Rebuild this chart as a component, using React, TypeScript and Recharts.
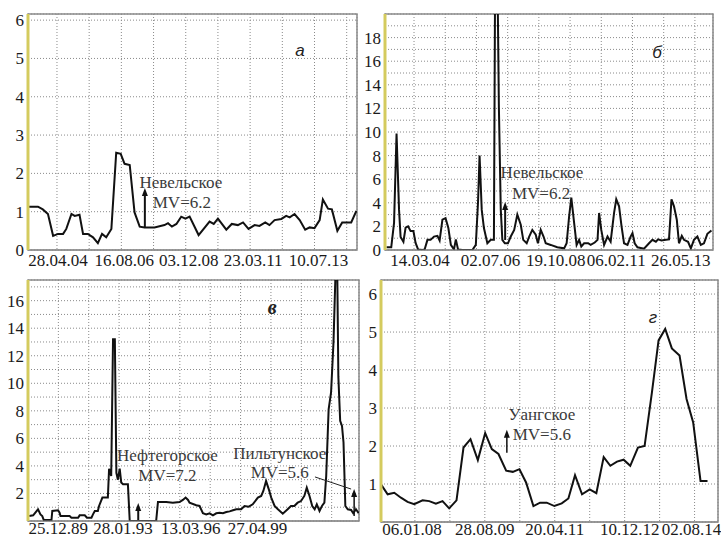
import { CartesianGrid, Line, LineChart, ReferenceArea, ReferenceDot, ReferenceLine, XAxis, YAxis } from 'recharts';

const serif = 'Liberation Serif, Times New Roman, serif';

// time is measured in grid steps of each panel (tick 0 = first dated gridline)

// а — Невельское, MV=6.2
const aTime = [-0.9, -0.59, -0.44, -0.28, -0.12, 0.03, 0.19, 0.29, 0.45, 0.55, 0.7, 0.81, 0.96, 1.12, 1.27, 1.4, 1.53, 1.69, 1.84, 1.98, 2.1, 2.26, 2.41, 2.57, 2.72, 3.03, 3.34, 3.45, 3.57, 3.71, 3.86, 3.99, 4.12, 4.4, 4.74, 4.87, 5.0, 5.26, 5.43, 5.62, 5.78, 5.95, 6.14, 6.29, 6.47, 6.6, 6.76, 6.97, 7.12, 7.23, 7.38, 7.54, 7.71, 7.85, 8.0, 8.16, 8.26, 8.42, 8.54, 8.71, 8.86, 9.14, 9.3];
const aValue = [1.13, 1.13, 1.06, 0.94, 0.37, 0.42, 0.42, 0.55, 0.94, 0.89, 0.92, 0.42, 0.42, 0.33, 0.18, 0.42, 0.33, 0.55, 2.54, 2.51, 2.25, 2.22, 0.98, 0.61, 0.59, 0.59, 0.65, 0.7, 0.61, 0.68, 0.87, 0.82, 0.87, 0.39, 0.74, 0.68, 0.82, 0.53, 0.68, 0.65, 0.72, 0.55, 0.65, 0.63, 0.72, 0.65, 0.78, 0.81, 0.89, 0.85, 0.94, 0.78, 0.53, 0.59, 0.57, 0.78, 1.32, 1.08, 1.06, 0.5, 0.72, 0.72, 1.02];
const aDates = ['28.04.04', '16.08.06', '03.12.08', '23.03.11', '10.07.13'];

// б — Невельское, MV=6.2
const bTime = [-0.88, -0.73, -0.64, -0.56, -0.48, -0.43, -0.34, -0.27, -0.19, -0.11, -0.02, 0.05, 0.13, 0.27, 0.34, 0.43, 0.53, 0.64, 0.75, 0.82, 0.91, 1.01, 1.1, 1.18, 1.28, 1.34, 1.41, 1.55, 1.87, 1.98, 2.05, 2.1, 2.17, 2.24, 2.35, 2.46, 2.56, 2.6, 2.67, 2.72, 2.78, 2.83, 2.91, 3.01, 3.1, 3.21, 3.31, 3.42, 3.5, 3.61, 3.69, 3.79, 3.9, 3.97, 4.06, 4.15, 4.22, 4.38, 4.59, 4.81, 4.89, 4.97, 5.04, 5.13, 5.21, 5.29, 5.36, 5.45, 5.58, 5.66, 5.79, 5.88, 5.93, 6.0, 6.09, 6.2, 6.3, 6.41, 6.48, 6.57, 6.65, 6.73, 6.84, 6.94, 7.0, 7.07, 7.16, 7.37, 7.53, 7.64, 7.75, 7.82, 7.93, 8.07, 8.17, 8.25, 8.33, 8.42, 8.49, 8.58, 8.65, 8.78, 8.87, 8.97, 9.08, 9.19, 9.29, 9.4, 9.53];
const bValue = [0.23, 0.23, 2.3, 9.86, 3.4, 1.1, 0.7, 1.9, 2.0, 1.6, 1.6, 0.6, 0.05, 0, 0.05, 0.86, 0.86, 1.14, 1.2, 0.8, 2.57, 2.7, 1.86, 0.43, 0.05, 0.9, 0.05, 0, 0, 0.43, 4.0, 8.0, 3.4, 1.86, 0.57, 0.86, 0.86, 24, 24, 12, 3.4, 0.86, 0.57, 0.57, 1.14, 1.7, 3.0, 2.14, 0.86, 0.57, 1.14, 1.7, 1.3, 0.57, 1.7, 1.14, 0.57, 0.43, 0.23, 0.14, 0.57, 2.86, 4.43, 2.3, 0.43, 0.86, 0.3, 0.57, 0.57, 0.43, 0.63, 0.86, 3.14, 1.7, 0.43, 1.14, 0.7, 3.14, 4.3, 3.7, 2.0, 0.57, 0.43, 1.14, 1.43, 0.57, 0.23, 0.11, 0.57, 0.86, 0.7, 0.9, 0.8, 0.86, 0.9, 4.3, 3.7, 2.57, 0.57, 1.2, 0.86, 0.7, 0.14, 0.86, 1.14, 0.43, 0.57, 1.37, 1.66];
const bDates = ['14.03.04', '02.07.06', '19.10.08', '06.02.11', '26.05.13'];

// в — Нефтегорское MV=7.2, Пильтунское MV=5.6
const cTime = [-0.96, -0.83, -0.67, -0.59, -0.53, -0.48, -0.29, -0.23, -0.2, -0.01, 0.04, 0.07, 0.37, 0.43, 0.65, 0.7, 0.87, 0.94, 1.09, 1.14, 1.2, 1.3, 1.34, 1.45, 1.63, 1.67, 1.74, 1.8, 1.86, 1.91, 1.96, 2.02, 2.07, 2.13, 2.29, 2.35, 3.22, 3.28, 3.55, 3.77, 3.99, 4.1, 4.19, 4.27, 4.32, 4.54, 4.65, 4.76, 4.87, 4.98, 5.09, 5.2, 5.31, 5.42, 5.53, 5.64, 5.75, 5.86, 6.02, 6.13, 6.27, 6.4, 6.57, 6.68, 6.75, 6.84, 6.93, 7.01, 7.12, 7.23, 7.39, 7.55, 7.66, 7.77, 7.88, 7.99, 8.1, 8.18, 8.27, 8.36, 8.44, 8.51, 8.6, 8.68, 8.76, 8.82, 8.9, 8.98, 9.06, 9.14, 9.18, 9.22, 9.28, 9.34, 9.39, 9.45, 9.53, 9.64, 9.71, 9.8, 9.89];
const cValue = [0.36, 0.41, 0.85, 0.48, 0.36, 0.07, 0.07, 0, 0.73, 0.78, 0.6, 0.36, 0.36, 0.24, 0.24, 0.41, 0.41, 0.24, 0.24, 0.48, 0.73, 0.73, 1.09, 1.7, 1.7, 3.8, 3.27, 13.2, 13.2, 3.5, 3.0, 3.8, 2.8, 2.67, 2.67, 0, 0, 1.38, 1.38, 1.33, 1.38, 1.53, 1.7, 1.53, 1.33, 1.14, 1.09, 0.56, 0.48, 0.56, 0.41, 0.56, 0.6, 0.56, 0.65, 0.7, 0.78, 0.85, 0.85, 1.09, 1.04, 1.21, 1.7, 1.82, 2.18, 2.9, 2.3, 1.7, 1.09, 0.85, 0.53, 0.85, 1.09, 1.09, 1.33, 1.45, 1.82, 2.42, 1.82, 1.09, 0.85, 1.21, 0.73, 1.09, 1.33, 3.27, 8.1, 9.33, 12.97, 19, 19, 10.5, 7.27, 6.9, 5.7, 1.09, 0.85, 0.8, 0.56, 0.85, 0.56];
const cDates = ['25.12.89', '28.01.93', '13.03.96', '27.04.99'];

// г — Уангское, MV=5.6
const dTime = [-0.97, -0.78, -0.59, -0.4, -0.21, -0.02, 0.22, 0.41, 0.6, 0.79, 0.98, 1.19, 1.39, 1.59, 1.8, 2.01, 2.2, 2.39, 2.61, 2.8, 2.99, 3.18, 3.39, 3.58, 3.77, 3.99, 4.2, 4.39, 4.58, 4.78, 5.0, 5.19, 5.4, 5.59, 5.78, 5.97, 6.16, 6.38, 6.57, 6.78, 6.97, 7.16, 7.35, 7.57, 7.77, 7.96, 8.17, 8.37];
const dValue = [0.99, 0.73, 0.77, 0.64, 0.53, 0.47, 0.57, 0.55, 0.48, 0.55, 0.36, 0.57, 1.96, 2.18, 1.63, 2.34, 1.92, 1.79, 1.35, 1.32, 1.39, 1.04, 0.42, 0.51, 0.51, 0.42, 0.49, 0.62, 1.23, 0.73, 0.86, 0.76, 1.71, 1.48, 1.59, 1.64, 1.48, 1.96, 2.0, 3.41, 4.78, 5.08, 4.57, 4.38, 3.24, 2.62, 1.08, 1.08];
const dDates = ['06.01.08', '28.08.09', '20.04.11', '10.12.12', '02.08.14'];

const range = (a: number, b: number) => Array.from({ length: b - a + 1 }, (_, i) => a + i);

type Note = { t: number; v: number; text: string; style?: React.CSSProperties };
type Arrow = { t: number; from: number; to: number; w?: number };
type Seg = { t1: number; v1: number; t2: number; v2: number };

const tickStyle: React.CSSProperties = { fontFamily: serif, fontSize: 17, fill: '#1a1a1a' };

const arrowShape = (w: number) => (p: any) => {
  const { x1, y1, x2, y2 } = p;
  const top = Math.min(y1, y2);
  const bot = Math.max(y1, y2);
  return (
    <g>
      <line x1={x1} y1={bot} x2={x2} y2={top + 6} stroke="#111" strokeWidth={w} />
      <polygon points={`${x2},${top} ${x2 - 3},${top + 8} ${x2 + 3},${top + 8}`} fill="#111" />
    </g>
  );
};

function Panel(props: {
  left: number; top: number; width: number; height: number;
  mTop: number; mRight: number; yWidth: number; xHeight: number;
  xDomain: [number, number]; yDomain: [number, number];
  xTicks: number[]; dateAt: number[]; dates: string[]; dateDx: number[];
  yTicks: number[]; yLabel: (v: number) => string;
  time: number[]; value: number[];
  notes: Note[]; arrows: Arrow[]; segs?: Seg[]; xMargin?: number; dy?: string;
}) {
  const data = props.time.map((t, i) => ({ t, v: props.value[i] }));
  const [x0, x1] = props.xDomain;
  const [y0, y1] = props.yDomain;
  const xTick = (p: any) => {
    const k = props.dateAt.indexOf(p.payload.value);
    if (k < 0) return <g />;
    return (
      <text x={p.x + props.dateDx[k]} y={p.y} dy={props.dy ?? '0.71em'} textAnchor="middle" style={tickStyle}>
        {props.dates[k]}
      </text>
    );
  };
  const yTick = (p: any) => (
    <text x={p.x} y={p.y} dy="0.35em" textAnchor="end" style={tickStyle}>
      {props.yLabel(p.payload.value)}
    </text>
  );
  return (
    <div style={{ position: 'absolute', left: props.left, top: props.top }}>
      <LineChart width={props.width} height={props.height} data={data}
        margin={{ top: props.mTop, right: props.mRight, left: 0, bottom: 0 }}>
        <CartesianGrid stroke="#8a8a8a" strokeDasharray="1 2" />
        <XAxis dataKey="t" type="number" domain={props.xDomain} allowDataOverflow ticks={props.xTicks} interval={0}
          height={props.xHeight} tickLine={false} tickSize={0} tickMargin={props.xMargin ?? 4}
          axisLine={{ stroke: '#8a8a8a' }} tick={xTick} />
        <YAxis type="number" domain={props.yDomain} allowDataOverflow ticks={props.yTicks} interval={0}
          width={props.yWidth} tickLine={false} tickSize={0} tickMargin={4}
          axisLine={{ stroke: '#d4cb5e', strokeWidth: 3 }} tick={yTick} />
        <ReferenceArea x1={x0} x2={x1} y1={y0} y2={y1} fill="none" stroke="#8a8a8a" strokeWidth={1.5} ifOverflow="visible" />
        <Line dataKey="v" type="linear" stroke="#111" strokeWidth={2} dot={false} isAnimationActive={false} />
        {props.arrows.map((a, i) => (
          <ReferenceLine key={'a' + i} segment={[{ x: a.t, y: a.from }, { x: a.t, y: a.to }]} ifOverflow="visible"
            shape={arrowShape(a.w ?? 2)} />
        ))}
        {(props.segs ?? []).map((s, i) => (
          <ReferenceLine key={'s' + i} segment={[{ x: s.t1, y: s.v1 }, { x: s.t2, y: s.v2 }]} stroke="#222" strokeWidth={1} ifOverflow="visible" />
        ))}
        {props.notes.map((n, i) => (
          <ReferenceDot key={'n' + i} x={n.t} y={n.v} ifOverflow="visible"
            shape={(p: any) => (
              <text x={p.cx} y={p.cy} textAnchor="middle" dominantBaseline="central"
                style={{ fontFamily: serif, fontSize: 17, fill: '#3a3a3a', ...n.style }}>{n.text}</text>
            )} />
        ))}
      </LineChart>
    </div>
  );
}

const letter: React.CSSProperties = { fontFamily: 'Liberation Sans, Arial, sans-serif', fontStyle: 'italic', fontSize: 17, fill: '#222' };

export default function App() {
  return (
    <div style={{ position: 'absolute', left: 0, top: 0, width: 721, height: 538, background: '#fff', overflow: 'hidden' }}>
      <Panel left={0} top={0} width={360} height={270} mTop={14} mRight={3} yWidth={28} xHeight={20}
        xDomain={[-0.9, 9.32]} yDomain={[0, 6.16]} xTicks={range(0, 9)}
        dateAt={[0, 2, 4, 6, 8]} dates={aDates} dateDx={[1, 3, 3, 3, 4]}
        yTicks={range(0, 6)} yLabel={(v) => String(v)} time={aTime} value={aValue}
        arrows={[{ t: 2.73, from: 0.58, to: 1.62 }]}
        notes={[
          { t: 3.85, v: 1.75, text: 'Невельское' },
          { t: 3.88, v: 1.25, text: 'MV=6.2' },
          { t: 7.55, v: 5.22, text: 'а', style: letter },
        ]} />
      <Panel left={360} top={0} width={361} height={270} mTop={14} mRight={8} yWidth={25} xHeight={20}
        xDomain={[-0.93, 9.58]} yDomain={[0, 20]} xTicks={range(0, 9)}
        dateAt={[0, 2, 4, 6, 8]} dates={bDates} dateDx={[6, 14, 17, 15, 17]}
        yTicks={range(0, 20)} yLabel={(v) => (v % 2 === 0 && v < 20 ? String(v) : '')} time={bTime} value={bValue}
        arrows={[{ t: 2.92, from: 0.85, to: 4.07 }]}
        notes={[
          { t: 4.1, v: 6.53, text: 'Невельское' },
          { t: 4.07, v: 4.83, text: 'MV=6.2' },
          { t: 7.79, v: 16.7, text: 'б', style: letter },
        ]} />
      <Panel left={0} top={270} width={362} height={268} mTop={10} mRight={3} yWidth={28} xHeight={17}
        xDomain={[-1, 9.9]} yDomain={[0, 17.5]} xTicks={range(-1, 9)}
        dateAt={[0, 2, 4, 6]} dates={cDates} dateDx={[0, 4, 11, 17]} xMargin={1} dy="0.68em"
        yTicks={range(0, 17)} yLabel={(v) => (v % 2 === 0 && v > 0 ? String(v) : '')} time={cTime} value={cValue}
        arrows={[{ t: 2.63, from: 0, to: 1.3 }, { t: 9.74, from: 0.36, to: 2.32, w: 1.5 }]}
        segs={[{ t1: 8.45, v1: 3.2, t2: 9.64, v2: 2.32 }]}
        notes={[
          { t: 3.59, v: 4.72, text: 'Нефтегорское' },
          { t: 3.59, v: 3.34, text: 'MV=7.2' },
          { t: 7.29, v: 4.87, text: 'Пильтунское' },
          { t: 7.29, v: 3.49, text: 'MV=5.6' },
          { t: 7.04, v: 15.54, text: 'в', style: { ...letter, fontFamily: serif, fontWeight: 'bold', fontSize: 20 } },
        ]} />
      <Panel left={360} top={270} width={361} height={268} mTop={10} mRight={3} yWidth={21} xHeight={16}
        xDomain={[-0.97, 8.67]} yDomain={[0, 6.37]} xTicks={range(0, 8)}
        dateAt={[0, 2, 4, 6, 8]} dates={dDates} dateDx={[-3, 0, 0, 5, -3]} xMargin={1} dy="0.68em"
        yTicks={range(0, 6)} yLabel={(v) => (v > 0 ? String(v) : '')} time={dTime} value={dValue}
        arrows={[{ t: 2.63, from: 1.82, to: 2.43, w: 1.5 }]}
        notes={[
          { t: 3.63, v: 2.82, text: 'Уангское' },
          { t: 3.63, v: 2.3, text: 'MV=5.6' },
          { t: 6.81, v: 5.38, text: 'г', style: letter },
        ]} />
    </div>
  );
}
